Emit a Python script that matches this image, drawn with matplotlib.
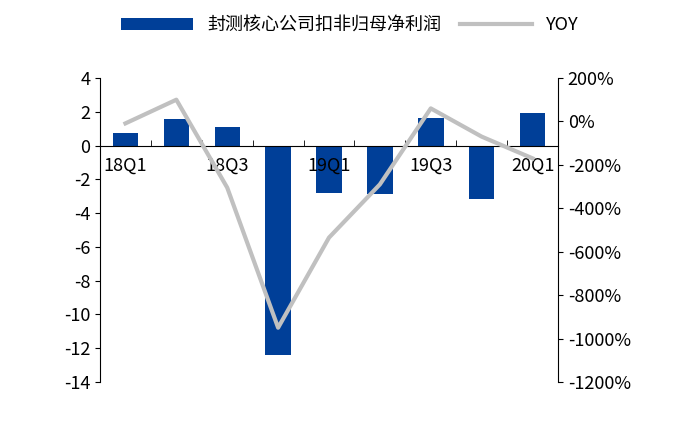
import matplotlib
matplotlib.use("Agg")
import matplotlib.pyplot as plt
import numpy as np

plt.rcParams['font.family'] = ['Noto Sans CJK SC', 'DejaVu Sans']
plt.rcParams['axes.unicode_minus'] = False

quarters = ["18Q1", "18Q2", "18Q3", "18Q4", "19Q1", "19Q2", "19Q3", "19Q4", "20Q1"]
profit = [0.75, 1.6, 1.1, -12.4, -2.8, -2.85, 1.65, -3.15, 1.9]
yoy = [-9, 100, -305, -950, -535, -290, 60, -70, -170]

fig = plt.figure(figsize=(7, 4.34), dpi=100)
ax = fig.add_axes([100 / 700, 52 / 434, 458 / 700, 304 / 434])
x = np.arange(len(quarters))
bars = ax.bar(x, profit, width=0.5, color="#003f98", label="封测核心公司扣非归母净利润")
ax.set_ylim(-14, 4)
ax.set_yticks(range(-14, 5, 2))
ax.set_xlim(-0.5, len(quarters) - 0.5)
ax.spines["top"].set_visible(False)
ax.spines["right"].set_visible(False)
ax.spines["bottom"].set_position(("data", 0))
ax.set_xticks(x[::2])
ax.set_xticklabels(quarters[::2])
ax.set_xticks(np.arange(-0.5, len(quarters), 1), minor=True)
ax.tick_params(axis="x", which="major", length=0, labelsize=13, pad=8)
ax.tick_params(axis="x", which="minor", length=4, direction="in")
ax.tick_params(axis="y", labelsize=13, direction="out")

ax2 = ax.twinx()
line, = ax2.plot(x, yoy, color="#c0c0c0", lw=3, label="YOY")
ax2.set_ylim(-1200, 200)
ax2.set_yticks(range(-1200, 201, 200))
ax2.set_yticklabels([f"{v}%" for v in range(-1200, 201, 200)])
ax2.tick_params(axis="y", labelsize=13)
ax2.spines["top"].set_visible(False)
ax2.spines["left"].set_visible(False)
ax2.spines["bottom"].set_visible(False)

fig.legend(handles=[bars, line], loc="upper center", bbox_to_anchor=(0.5, 1.0),
           ncol=2, frameon=False, fontsize=13, handlelength=4, columnspacing=1.0)

fig.savefig("out.png", dpi=100)
